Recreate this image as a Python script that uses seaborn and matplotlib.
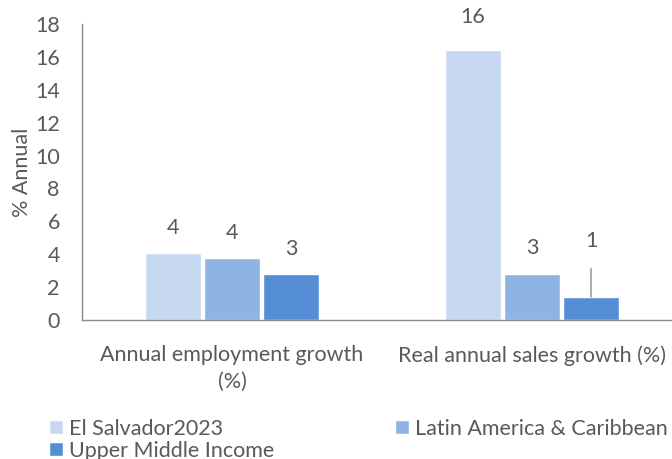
import pandas as pd
import matplotlib.pyplot as plt
import seaborn as sns
from matplotlib.patches import Patch

# values
categories = ['Annual employment growth\n(%)', 'Real annual sales growth (%)']
series = ['El Salvador2023', 'Latin America & Caribbean', 'Upper Middle Income']
el_salvador = [4.1, 16.4]
latin_america = [3.8, 2.8]
upper_middle = [2.8, 1.4]
shown_labels = [['4', '16'], ['4', '3'], ['3', '1']]

colors = {
    'El Salvador2023': '#C6D9F1',
    'Latin America & Caribbean': '#8EB4E3',
    'Upper Middle Income': '#558ED5',
}
text_color = '#595959'
axis_color = '#8C8C8C'
fs = 15.5

df = pd.DataFrame({
    'category': categories * 3,
    'series': [s for s in series for _ in categories],
    'value': el_salvador + latin_america + upper_middle,
})

sns.set_style('white')
plt.rcParams['font.family'] = ['Lato', 'DejaVu Sans']

fig = plt.figure(figsize=(6.72, 4.59), dpi=100)
ax = fig.add_axes([82 / 672, 139 / 459, 600 / 672, 296 / 459])

sns.barplot(data=df, x='category', y='value', hue='series',
            palette=colors, width=0.59, gap=0.05, ax=ax,
            legend=False, saturation=1)

ax.set_ylim(0, 18)
ax.set_xlim(-0.5, 1.5)
ax.set_yticks(range(0, 19, 2))
ax.tick_params(axis='y', length=0, pad=16, labelsize=fs, labelcolor=text_color)
ax.tick_params(axis='x', length=0, pad=18, labelsize=fs, labelcolor=text_color)
for t in ax.get_xticklabels():
    t.set_linespacing(1.45)
ax.set_xlabel('')
ax.set_ylabel('% Annual', fontsize=fs, color=text_color)
ax.yaxis.set_label_coords(-50 / 600, 0.5)

for side in ['top', 'right']:
    ax.spines[side].set_visible(False)
for side in ['left', 'bottom']:
    ax.spines[side].set_color(axis_color)
    ax.spines[side].set_linewidth(1)

# data labels (offset in points above the bar top)
offsets = [[18, 24], [18, 19], [18, 40]]
for container, labels, offs in zip(ax.containers, shown_labels, offsets):
    for bar, lab, off in zip(container, labels, offs):
        x = bar.get_x() + bar.get_width() / 2
        y = bar.get_height()
        if off > 30:
            ax.annotate(lab, xy=(x, y), xytext=(0, off), textcoords='offset points',
                        ha='center', va='center', fontsize=fs, color=text_color,
                        arrowprops=dict(arrowstyle='-', color=axis_color, lw=1,
                                        shrinkA=10, shrinkB=0))
        else:
            ax.annotate(lab, xy=(x, y), xytext=(0, off), textcoords='offset points',
                        ha='center', va='center', fontsize=fs, color=text_color)

handles = [Patch(facecolor=colors[s], label=s) for s in series]
order = [handles[0], handles[2], handles[1]]
fig.legend(handles=order, loc='upper left', bbox_to_anchor=(40 / 672, 1 - 410 / 459),
           ncol=2, frameon=False, fontsize=fs, labelcolor=text_color,
           handlelength=0.65, handleheight=0.65, handletextpad=0.3,
           columnspacing=5.6, labelspacing=0.1, borderaxespad=0)

plt.savefig('out.png', dpi=100)
